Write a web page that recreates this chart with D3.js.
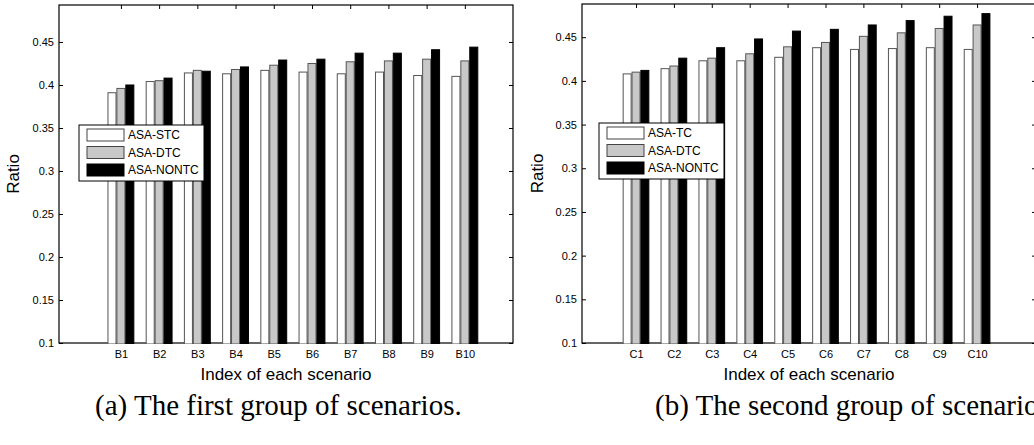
<!DOCTYPE html>
<html>
<head>
<meta charset="utf-8">
<script src="https://cdn.jsdelivr.net/npm/d3@7"></script>
<style>
  body { margin: 0; background: #fff; }
  svg { display: block; }
</style>
</head>
<body>
<div id="chart"></div>
<script>
// data
const scenariosA = ["B1", "B2", "B3", "B4", "B5", "B6", "B7", "B8", "B9", "B10"];
const stcA   = [0.391, 0.404, 0.414, 0.413, 0.417, 0.415, 0.413, 0.415, 0.411, 0.410];
const dtcA   = [0.396, 0.405, 0.417, 0.418, 0.423, 0.425, 0.427, 0.428, 0.430, 0.428];
const nontcA = [0.400, 0.408, 0.416, 0.421, 0.429, 0.430, 0.437, 0.437, 0.441, 0.444];
const legendA = ["ASA-STC", "ASA-DTC", "ASA-NONTC"];

const scenariosB = ["C1", "C2", "C3", "C4", "C5", "C6", "C7", "C8", "C9", "C10"];
const tcB    = [0.408, 0.414, 0.423, 0.423, 0.427, 0.438, 0.436, 0.437, 0.438, 0.436];
const dtcB   = [0.410, 0.417, 0.426, 0.431, 0.439, 0.444, 0.451, 0.455, 0.460, 0.464];
const nontcB = [0.412, 0.426, 0.438, 0.448, 0.457, 0.459, 0.464, 0.469, 0.474, 0.477];
const legendB = ["ASA-TC", "ASA-DTC", "ASA-NONTC"];

const yTicks = [0.1, 0.15, 0.2, 0.25, 0.3, 0.35, 0.4, 0.45];

const width = 1034, height = 445;
const fills = ["#ffffff", "#c8c8c8", "#000000"];
const sans = "'Liberation Sans', Arial, sans-serif";

const svg = d3.select("#chart")
    .append("svg")
    .attr("width", width)
    .attr("height", height);

function drawPanel(opt) {
    const g = svg.append("g");
    const x = d3.scaleLinear().domain(opt.xDomain).range([opt.left, opt.right]);
    const y = d3.scaleLinear().domain(opt.yDomain).range([opt.bottom, opt.top]);

    const step = x(1) - x(0);
    const barW = step * 0.21;
    const gap = 0.9;

    // frame
    g.append("rect")
        .attr("x", opt.left).attr("y", opt.top)
        .attr("width", opt.right - opt.left).attr("height", opt.bottom - opt.top)
        .attr("fill", "#fff").attr("stroke", "#000").attr("stroke-width", 1.2);

    // bars (clipped to the axes box)
    const clipId = "clip-" + opt.id;
    g.append("clipPath").attr("id", clipId)
        .append("rect")
        .attr("x", opt.left).attr("y", opt.top)
        .attr("width", opt.right - opt.left).attr("height", opt.bottom - opt.top + 1);

    const rows = [];
    opt.series.forEach((vals, k) => {
        vals.forEach((v, i) => rows.push({ i, k, v }));
    });

    g.append("g").attr("clip-path", `url(#${clipId})`)
        .selectAll("rect")
        .data(rows)
        .enter()
        .append("rect")
        .attr("x", d => x(d.i) + (d.k - 1.5) * (barW + gap) + gap / 2)
        .attr("y", d => y(d.v))
        .attr("width", barW)
        .attr("height", d => opt.bottom + 1 - y(d.v))
        .attr("fill", d => fills[d.k])
        .attr("stroke", d => d.k === 2 ? "#000" : "#555")
        .attr("stroke-width", 1);

    // y axes, inward ticks on both sides
    g.append("g")
        .attr("transform", `translate(${opt.left},0)`)
        .call(d3.axisLeft(y).tickValues(yTicks).tickFormat(d3.format("~g")).tickSize(-4).tickPadding(5));
    g.append("g")
        .attr("transform", `translate(${opt.right},0)`)
        .call(d3.axisRight(y).tickValues(yTicks).tickFormat("").tickSize(-4));

    // x axis: labels at bottom, inward ticks at top
    const idx = d3.range(opt.cats.length);
    g.append("g")
        .attr("transform", `translate(0,${opt.bottom})`)
        .call(d3.axisBottom(x).tickValues(idx).tickFormat(i => opt.cats[i]).tickSize(0).tickPadding(7));
    g.append("g")
        .attr("transform", `translate(0,${opt.top})`)
        .call(d3.axisTop(x).tickValues(idx).tickFormat("").tickSize(-4));

    g.selectAll(".domain").remove();
    g.selectAll(".tick line").attr("stroke", "#000");
    g.selectAll(".tick text")
        .style("font-family", sans)
        .style("font-size", "11px")
        .attr("fill", "#000");

    // axis titles
    g.append("text")
        .attr("x", (opt.left + opt.right) / 2)
        .attr("y", opt.bottom + 37)
        .attr("text-anchor", "middle")
        .style("font-family", sans)
        .style("font-size", "17px")
        .text("Index of each scenario");

    g.append("text")
        .attr("transform", `translate(${opt.yLabelX},${(opt.top + opt.bottom) / 2}) rotate(-90)`)
        .attr("text-anchor", "middle")
        .style("font-family", sans)
        .style("font-size", "17px")
        .text("Ratio");

    // legend
    const lg = g.append("g").attr("transform", `translate(${opt.legend[0]},${opt.legend[1]})`);
    lg.append("rect")
        .attr("width", 125).attr("height", 56)
        .attr("fill", "#fff").attr("stroke", "#000").attr("stroke-width", 1);
    opt.legendNames.forEach((name, k) => {
        lg.append("rect")
            .attr("x", 8).attr("y", 4 + k * 17.5)
            .attr("width", 37).attr("height", 12)
            .attr("fill", fills[k])
            .attr("stroke", k === 2 ? "#000" : "#444")
            .attr("stroke-width", 1);
        lg.append("text")
            .attr("x", 49).attr("y", 10 + k * 17.5)
            .attr("dy", "0.35em")
            .style("font-family", sans)
            .style("font-size", "12px")
            .text(name);
    });

    // caption
    g.append("text")
        .attr("x", opt.caption[0])
        .attr("y", opt.caption[1])
        .style("font-family", "'Liberation Serif', 'Times New Roman', serif")
        .style("font-size", "29px")
        .text(opt.captionText);
}

drawPanel({
    id: "a",
    cats: scenariosA,
    series: [stcA, dtcA, nontcA],
    legendNames: legendA,
    left: 59, right: 513, top: 5, bottom: 343,
    xDomain: [-1.62, 10.26],
    yDomain: [0.1, 0.493],
    yLabelX: 19,
    legend: [79, 125],
    caption: [95, 415],
    captionText: "(a) The first group of scenarios."
});

drawPanel({
    id: "b",
    cats: scenariosB,
    series: [tcB, dtcB, nontcB],
    legendNames: legendB,
    left: 582, right: 1036, top: 4, bottom: 343,
    xDomain: [-1.425, 10.555],
    yDomain: [0.1, 0.488],
    yLabelX: 543,
    legend: [599, 123],
    caption: [655, 415],
    captionText: "(b) The second group of scenarios."
});
</script>
</body>
</html>
